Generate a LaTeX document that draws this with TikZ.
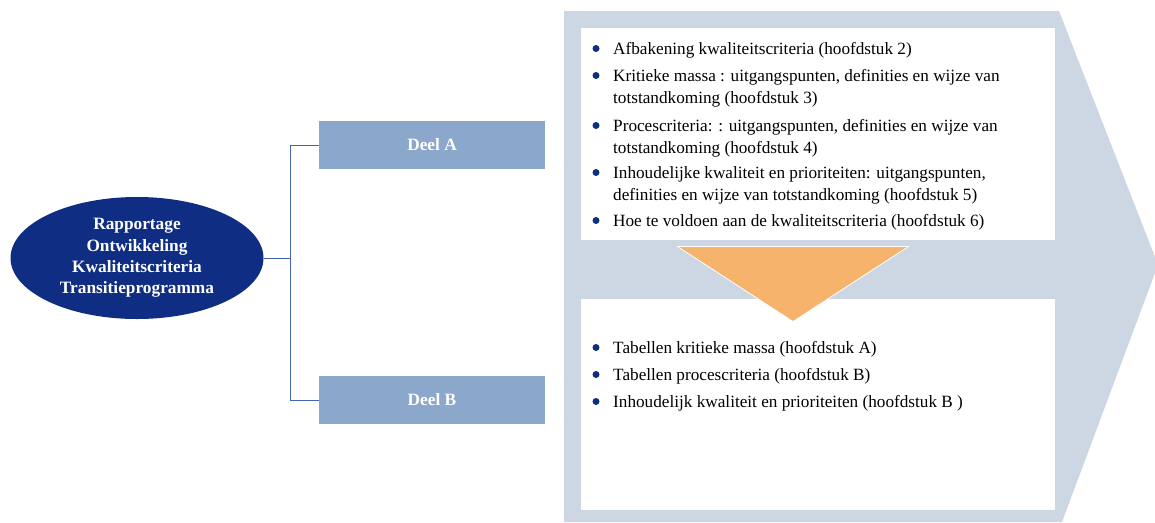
\documentclass[tikz,border=0pt]{standalone}
\usepackage{fontspec}
\setmainfont{Liberation Serif}
\usepackage{xcolor}
\usetikzlibrary{shapes.geometric}

\definecolor{panelgrey}{HTML}{CDD7E3}
\definecolor{deelblue}{HTML}{8CA7CC}
\definecolor{navy}{HTML}{0F2D83}
\definecolor{linkblue}{HTML}{4565B0}
\definecolor{funnel}{HTML}{F5B36B}

\begin{document}
\begin{tikzpicture}[
            x = 1pt, y = -1pt, % pixel grid, y downwards
            deel/.style = {rectangle, fill=deelblue, minimum width=226pt,
                           minimum height=48pt, text=white, font=\bfseries\fontsize{17.3}{20}\selectfont},
            item/.style = {anchor=base west, inner sep=0pt, align=left,
                           font=\fontsize{17.2}{22}\selectfont},
            dot/.style = {circle, fill=navy, inner sep=0pt, minimum size=7pt},
            link/.style = {draw=linkblue, line width=0.8pt}
        ]
\useasboundingbox (0,0) rectangle (1155,522);

% big chevron behind the lists
\fill[panelgrey] (564,11) -- (1059,11) -- (1155,257) -- (1155,273) -- (1062,522) -- (564,522) -- cycle;

% white panels
\node[rectangle, fill=white, minimum width=474pt, minimum height=212pt, anchor=north west, inner sep=0pt] (partA) at (581,28) {};
\node[rectangle, fill=white, minimum width=474pt, minimum height=211pt, anchor=north west, inner sep=0pt] (partB) at (581,299) {};

% orange funnel
\node[isosceles triangle, isosceles triangle apex angle=114, shape border rotate=-90, fill=funnel, draw=white, line width=0.8pt,
      minimum height=75pt, inner sep=0pt, anchor=apex] (funnel) at (793,322) {};

% main node
\node[ellipse, fill=navy, minimum width=253pt, minimum height=122pt, inner sep=0pt, text=white, align=center,
      font=\bfseries\fontsize{17.3}{21.3}\selectfont] (rapport) at (137,258)
      {Rapportage\\Ontwikkeling\\Kwaliteitscriteria\\Transitieprogramma};

\node[deel] (deelA) at (432,145) {Deel A};
\node[deel] (deelB) at (432,400) {Deel B};

\coordinate (split) at (290,258);
\draw[link] (rapport.east) -- (split) |- (deelA.west);
\draw[link] (split) |- (deelB.west);

% list deel A
\node[dot] (dA1) at (596,48.5) {};
\node[item] (tA1) at (613,54) {Afbakening kwaliteitscriteria (hoofdstuk 2)};
\node[dot] (dA2) at (596,75.5) {};
\node[item] (tA2) at (613,103) {Kritieke massa : uitgangspunten, definities en wijze van\\totstandkoming (hoofdstuk 3)};
\node[dot] (dA3) at (596,125.5) {};
\node[item] (tA3) at (613,153) {Procescriteria: : uitgangspunten, definities en wijze van\\totstandkoming (hoofdstuk 4)};
\node[dot] (dA4) at (596,172.5) {};
\node[item] (tA4) at (613,200) {Inhoudelijke kwaliteit en prioriteiten: uitgangspunten,\\definities en wijze van totstandkoming (hoofdstuk 5)};
\node[dot] (dA5) at (596,220.5) {};
\node[item] (tA5) at (613,226) {Hoe te voldoen aan de kwaliteitscriteria (hoofdstuk 6)};

% list deel B
\node[dot] (dB1) at (596,347.5) {};
\node[item] (tB1) at (613,353) {Tabellen kritieke massa (hoofdstuk A)};
\node[dot] (dB2) at (596,374.5) {};
\node[item] (tB2) at (613,380) {Tabellen procescriteria (hoofdstuk B)};
\node[dot] (dB3) at (596,401.5) {};
\node[item] (tB3) at (613,407) {Inhoudelijk kwaliteit en prioriteiten (hoofdstuk B )};
\end{tikzpicture}
\end{document}
